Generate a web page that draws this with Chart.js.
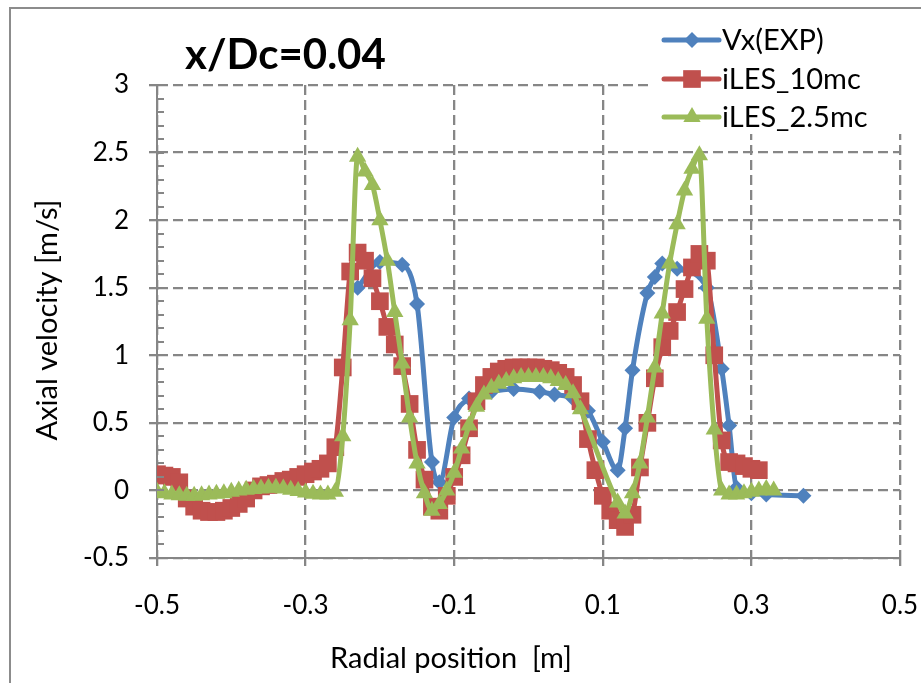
<!DOCTYPE html>
<html>
<head>
<meta charset="utf-8">
<script src="https://cdn.jsdelivr.net/npm/chart.js@4.4.1/dist/chart.umd.min.js"></script>
<style>
  html, body { margin: 0; padding: 0; background: #fff; }
  #wrap { width: 921px; height: 683px; position: relative; }
</style>
</head>
<body>
<div id="wrap"><canvas id="chart" width="921" height="683"></canvas></div>
<script>
// tick labels
const xTicks = [-0.5, -0.3, -0.1, 0.1, 0.3, 0.5];
const yTicks = [-0.5, 0, 0.5, 1, 1.5, 2, 2.5, 3];

// Vx(EXP)
const expX = [-0.23, -0.20, -0.17, -0.15, -0.13, -0.12, -0.10, -0.08, -0.05, -0.02, 0.015, 0.035, 0.06, 0.08, 0.10, 0.12, 0.13, 0.14, 0.16, 0.17, 0.18, 0.20, 0.24, 0.26, 0.27, 0.28, 0.30, 0.32, 0.37];
const expY = [1.50, 1.69, 1.67, 1.38, 0.21, 0.06, 0.54, 0.68, 0.73, 0.75, 0.73, 0.71, 0.68, 0.59, 0.36, 0.15, 0.46, 0.89, 1.46, 1.58, 1.68, 1.64, 1.50, 0.90, 0.48, 0.02, -0.02, -0.03, -0.04];

// iLES_10mc
const les10X = [-0.50, -0.49, -0.48, -0.47, -0.46, -0.45, -0.44, -0.43, -0.42, -0.41, -0.40, -0.39, -0.38, -0.37, -0.36, -0.35, -0.34, -0.33, -0.32, -0.31, -0.30, -0.29, -0.28, -0.27, -0.26, -0.25, -0.24, -0.23, -0.22, -0.21, -0.20, -0.19, -0.18, -0.17, -0.16, -0.15, -0.14, -0.13, -0.12, -0.11, -0.10, -0.09, -0.08, -0.07, -0.06, -0.05, -0.04, -0.03, -0.02, -0.01, 0.00, 0.01, 0.02, 0.03, 0.04, 0.05, 0.06, 0.07, 0.08, 0.09, 0.10, 0.11, 0.12, 0.13, 0.14, 0.15, 0.16, 0.17, 0.18, 0.19, 0.20, 0.21, 0.22, 0.23, 0.24, 0.25, 0.26, 0.27, 0.28, 0.29, 0.30, 0.31];
const les10Y = [0.12, 0.11, 0.10, 0.06, -0.06, -0.12, -0.15, -0.16, -0.16, -0.15, -0.13, -0.10, -0.06, 0.00, 0.03, 0.04, 0.05, 0.07, 0.08, 0.10, 0.12, 0.14, 0.16, 0.20, 0.32, 0.91, 1.62, 1.76, 1.70, 1.57, 1.40, 1.21, 1.08, 0.92, 0.64, 0.30, 0.08, -0.12, -0.15, -0.04, 0.10, 0.26, 0.46, 0.66, 0.78, 0.84, 0.88, 0.90, 0.91, 0.91, 0.91, 0.91, 0.90, 0.89, 0.87, 0.84, 0.78, 0.66, 0.38, 0.15, -0.04, -0.15, -0.22, -0.27, -0.18, 0.17, 0.50, 0.83, 1.06, 1.18, 1.32, 1.49, 1.65, 1.75, 1.70, 1.00, 0.37, 0.21, 0.20, 0.18, 0.16, 0.15];

// iLES_2.5mc
const les25X = [-0.50, -0.49, -0.48, -0.47, -0.46, -0.45, -0.44, -0.43, -0.42, -0.41, -0.40, -0.39, -0.38, -0.37, -0.36, -0.35, -0.34, -0.33, -0.32, -0.31, -0.30, -0.29, -0.28, -0.27, -0.26, -0.25, -0.24, -0.23, -0.22, -0.21, -0.20, -0.19, -0.18, -0.17, -0.16, -0.15, -0.14, -0.13, -0.12, -0.11, -0.10, -0.09, -0.08, -0.07, -0.06, -0.05, -0.04, -0.03, -0.02, -0.01, 0.00, 0.01, 0.02, 0.03, 0.04, 0.05, 0.06, 0.07, 0.12, 0.13, 0.14, 0.15, 0.16, 0.17, 0.18, 0.19, 0.20, 0.21, 0.22, 0.23, 0.24, 0.25, 0.26, 0.27, 0.28, 0.29, 0.30, 0.31, 0.32, 0.33];
const les25Y = [-0.01, -0.02, -0.03, -0.035, -0.04, -0.04, -0.035, -0.03, -0.025, -0.02, -0.01, 0.00, 0.005, 0.01, 0.015, 0.02, 0.02, 0.015, 0.005, -0.005, -0.015, -0.025, -0.03, -0.03, -0.01, 0.40, 1.26, 2.47, 2.36, 2.26, 2.00, 1.70, 1.32, 0.94, 0.54, 0.20, -0.02, -0.15, -0.10, 0.00, 0.13, 0.31, 0.48, 0.62, 0.71, 0.76, 0.79, 0.81, 0.83, 0.84, 0.84, 0.84, 0.84, 0.83, 0.81, 0.78, 0.72, 0.60, -0.09, -0.17, -0.02, 0.20, 0.54, 0.91, 1.31, 1.68, 1.97, 2.22, 2.38, 2.48, 1.27, 0.45, 0.00, -0.03, -0.03, -0.02, -0.01, 0.00, 0.01, 0.00];

const BLUE = '#4F81BD';
const RED = '#C0504D';
const GREEN = '#9BBB59';
const GRID = '#868686';
const FONT = 'Lato, "Open Sans", sans-serif';

function pts(xs, ys) {
    return xs.map((x, i) => ({ x: x, y: ys[i] }));
}

function marker(ctx, style, x, y, r) {
    ctx.beginPath();
    if (style === 'rectRot') {
        ctx.moveTo(x, y - r); ctx.lineTo(x + r, y); ctx.lineTo(x, y + r); ctx.lineTo(x - r, y);
    } else if (style === 'rect') {
        const s = r * Math.SQRT1_2;
        ctx.rect(x - s, y - s, 2 * s, 2 * s);
    } else {
        ctx.moveTo(x, y - r);
        ctx.lineTo(x + r * 0.866, y + r * 0.5);
        ctx.lineTo(x - r * 0.866, y + r * 0.5);
    }
    ctx.closePath();
    ctx.fill();
}

const series = [
    { label: 'Vx(EXP)', color: BLUE, style: 'rectRot', r: 8, xs: expX, ys: expY, order: 3 },
    { label: 'iLES_10mc', color: RED, style: 'rect', r: 12.5, xs: les10X, ys: les10Y, order: 2 },
    { label: 'iLES_2.5mc', color: GREEN, style: 'triangle', r: 10, xs: les25X, ys: les25Y, order: 1 }
];

const decor = {
    id: 'decor',
    afterDraw(chart) {
        const ctx = chart.ctx;
        const y = chart.scales.y;
        const area = chart.chartArea;
        ctx.save();
        // minor ticks on the y axis
        ctx.strokeStyle = GRID;
        ctx.lineWidth = 2;
        ctx.setLineDash([]);
        for (let v = -5; v <= 30; v++) {
            const py = Math.round(y.getPixelForValue(v / 10));
            ctx.beginPath();
            ctx.moveTo(area.left, py);
            ctx.lineTo(area.left + 7, py);
            ctx.stroke();
        }
        // outer frame
        ctx.strokeStyle = '#8c8c8c';
        ctx.lineWidth = 2;
        ctx.strokeRect(10, 8, 1000, 1000);

        // title
        ctx.fillStyle = '#000';
        ctx.font = 'bold 42px ' + FONT;
        ctx.textBaseline = 'middle';
        ctx.textAlign = 'left';
        ctx.fillText('x/Dc=0.04', 185, 55);

        // axis titles
        ctx.font = '29px ' + FONT;
        ctx.textAlign = 'center';
        ctx.fillText('Radial position  [m]', 451, 659);
        ctx.save();
        ctx.translate(48, 320);
        ctx.rotate(-Math.PI / 2);
        ctx.fillText('Axial velocity [m/s]', 0, 0);
        ctx.restore();

        // legend
        ctx.fillStyle = '#fff';
        ctx.fillRect(652, 22, 270, 112);
        const rows = [40, 79, 117];
        ctx.font = '29px ' + FONT;
        ctx.textAlign = 'left';
        series.forEach((s, i) => {
            const ly = rows[i];
            ctx.strokeStyle = s.color;
            ctx.lineWidth = 5;
            ctx.lineCap = 'round';
            ctx.beginPath();
            ctx.moveTo(664, ly);
            ctx.lineTo(719, ly);
            ctx.stroke();
            ctx.fillStyle = s.color;
            marker(ctx, s.style, 692, ly, s.r);
            ctx.fillStyle = '#000';
            ctx.fillText(s.label, 722, ly + 1);
        });
        ctx.restore();
    }
};

new Chart(document.getElementById('chart'), {
    type: 'line',
    data: {
        datasets: series.map(s => ({
            label: s.label,
            data: pts(s.xs, s.ys),
            borderColor: s.color,
            backgroundColor: s.color,
            borderWidth: 5,
            pointStyle: s.style,
            pointRadius: s.r,
            pointBorderWidth: 0,
            pointBackgroundColor: s.color,
            cubicInterpolationMode: 'monotone',
            order: s.order
        }))
    },
    options: {
        responsive: false,
        animation: false,
        layout: { padding: { left: 0, top: 85, right: 21, bottom: 0 } },
        plugins: { legend: { display: false }, tooltip: { enabled: false } },
        scales: {
            x: {
                type: 'linear',
                min: -0.5,
                max: 0.5,
                afterBuildTicks: s => { s.ticks = xTicks.map(v => ({ value: v })); },
                afterFit: s => { s.height = 125; s.paddingLeft = 0; s.paddingRight = 0; },
                grid: { color: GRID, lineWidth: 2.3, tickLength: 8, tickColor: GRID, tickBorderDash: [] },
                border: { color: GRID, width: 2, dash: [10, 5] },
                ticks: { color: '#000', font: { family: FONT, size: 26 }, padding: 24, maxRotation: 0,
                    callback: v => v.toFixed(1) }
            },
            y: {
                type: 'linear',
                min: -0.5,
                max: 3,
                afterBuildTicks: s => { s.ticks = yTicks.map(v => ({ value: v })); },
                afterFit: s => { s.width = 157; s.paddingTop = 0; s.paddingBottom = 0; },
                grid: { color: GRID, lineWidth: 2.3, tickLength: 8, tickColor: GRID, tickBorderDash: [] },
                border: { color: GRID, width: 2, dash: [10, 5] },
                ticks: { color: '#000', font: { family: FONT, size: 26 }, padding: 20,
                    callback: v => String(v) }
            }
        }
    },
    plugins: [decor]
});
</script>
</body>
</html>
